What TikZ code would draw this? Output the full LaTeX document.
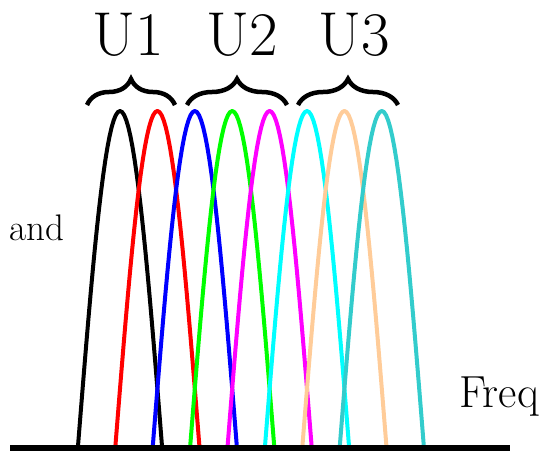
\documentclass[tikz,border=0pt]{standalone}
\usetikzlibrary{decorations.pathreplacing}
\definecolor{lobered}{RGB}{255,0,0}
\definecolor{lobeblue}{RGB}{0,0,255}
\definecolor{lobegreen}{RGB}{0,255,0}
\definecolor{lobemagenta}{RGB}{255,0,255}
\definecolor{lobecyan}{RGB}{0,255,255}
\definecolor{lobepeach}{RGB}{255,204,153}
\definecolor{lobeteal}{RGB}{51,204,204}
\begin{document}
\begin{tikzpicture}[x=1pt, y=-1pt,
  lobe/.style={line width=4pt, line join=round},
  grp/.style={decorate, decoration={brace, amplitude=26pt}, line width=4.5pt},
  ulabel/.style={anchor=base, inner sep=0, font=\fontsize{62}{62}\selectfont}]
\useasboundingbox (0,0) rectangle (545,451);
% subcarrier lobes
\foreach \c [count=\i from 0] in {black,lobered,lobeblue,lobegreen,lobemagenta,lobecyan,lobepeach,lobeteal}
  \draw[lobe, \c] plot[domain=-1:1, samples=41] ({120+37.4*\i+42*\x}, {446-335*cos(90*\x)});
% frequency axis
\coordinate (ax0) at (10,448);
\coordinate (ax1) at (510,448);
\draw[line width=6pt] (ax0) -- (ax1);
% user groups
\coordinate (g1l) at (87,105);
\coordinate (g1r) at (175,105);
\coordinate (g2l) at (187,105);
\coordinate (g2r) at (287,105);
\coordinate (g3l) at (298,105);
\coordinate (g3r) at (398,105);
\draw[grp] (g1l) -- (g1r);
\draw[grp] (g2l) -- (g2r);
\draw[grp] (g3l) -- (g3r);
\node[ulabel] (u1) at (128,55) {U1};
\node[ulabel] (u2) at (242,55) {U2};
\node[ulabel] (u3) at (354,55) {U3};
% axis labels
\node[anchor=base west, inner sep=0, font=\fontsize{37}{37}\selectfont] (band) at (9,240) {and};
\node[anchor=base west, inner sep=0, font=\fontsize{45}{45}\selectfont] (freq) at (459,407) {Freq};
\end{tikzpicture}
\end{document}
